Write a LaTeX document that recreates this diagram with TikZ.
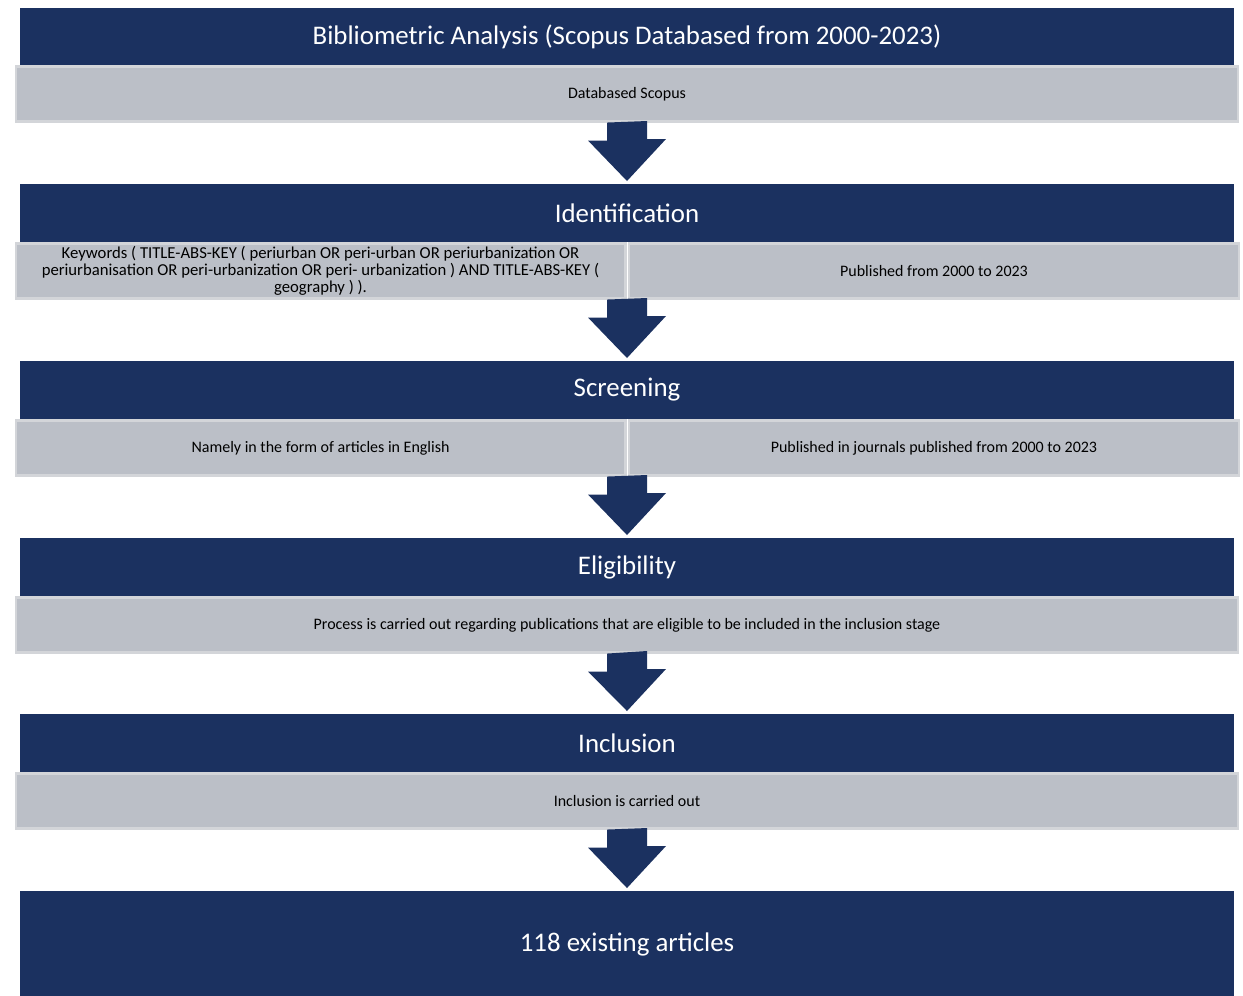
\documentclass[tikz,border=0pt]{standalone}
\usepackage{fontspec}
\setmainfont{Carlito}
\usetikzlibrary{positioning}
\definecolor{navy}{HTML}{1B3160}
\definecolor{barfill}{HTML}{BBBFC7}
\definecolor{barline}{HTML}{D3D5D9}
\tikzset{
	band/.style = {fill=navy, text=white, minimum width=24.28cm, minimum height=1.16cm, inner sep=0pt, font=\fontsize{15.3}{18}\selectfont},
	bar/.style = {fill=barfill, draw=barline, line width=1.2pt, minimum width=24.44cm, minimum height=1.1cm, inner sep=0pt, align=center, font=\fontsize{9.1}{9.7}\selectfont},
	halfbar/.style = {bar, minimum width=12.2cm},
	bigarrow/.style = {fill=navy}
}

\begin{document}
\begin{tikzpicture}[x=0.02cm, y=-0.02cm]
		\useasboundingbox (0,0) rectangle (1243,996);
		% stages
		\node[band] (bib) at (627,37) {Bibliometric Analysis (Scopus Databased from 2000-2023)};
		\node[bar] (db) at (627,94) {Databased Scopus};
		\node[band] (ident) at (627,213) {Identification};
		\node[halfbar, font=\fontsize{9.5}{9.7}\selectfont] (idkey) at (320.5,271) {Keywords ( TITLE-ABS-KEY ( periurban OR peri-urban OR periurbanization OR\\ periurbanisation OR peri-urbanization OR peri- urbanization ) AND TITLE-ABS-KEY (\\ geography ) ).};
		\node[halfbar] (idyear) at (934,271) {Published from 2000 to 2023};
		\node[band] (scr) at (627,390) {Screening};
		\node[halfbar] (scrlang) at (320.5,448) {Namely in the form of articles in English};
		\node[halfbar] (scryear) at (934,448) {Published in journals published from 2000 to 2023};
		\node[band] (elig) at (627,567) {Eligibility};
		\node[bar] (eligproc) at (627,625) {Process is carried out regarding publications that are eligible to be included in the inclusion stage};
		\node[band] (incl) at (627,743) {Inclusion};
		\node[bar] (inclproc) at (627,801) {Inclusion is carried out};
		\node[band, minimum height=2.12cm] (res) at (627,944) {118 existing articles};
		
		% arrow starts for split rows
		\coordinate (idbot) at (ident.center |- idkey.south);
		\coordinate (scrbot) at (scr.center |- scrlang.south);
		
		% arrows
		\foreach \a/\b in {db/ident, idbot/scr, scrbot/elig, eligproc/incl, inclproc/res}
			\fill[bigarrow] (\a.south) ++(-20,0) -- ++(0,18) -- ++(-19,0) -- ([yshift=1.5pt]\b.north) -- ++(39,-42) -- ++(-19,0) -- ++(0,-18) -- cycle;
	\end{tikzpicture}
\end{document}
